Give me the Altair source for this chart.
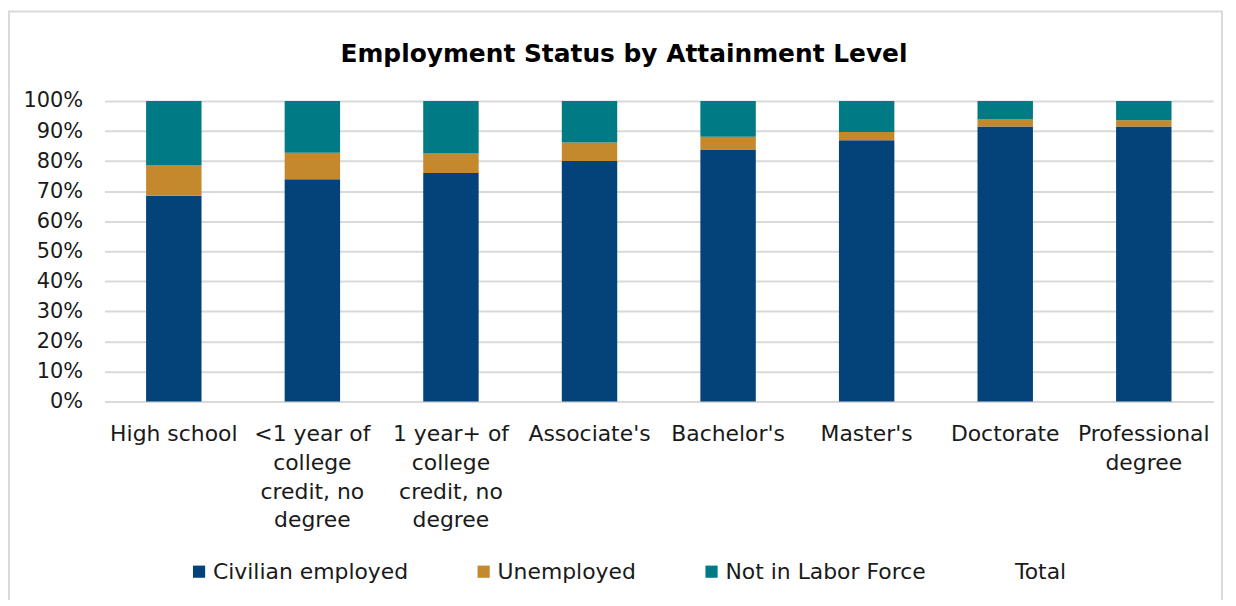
import altair as alt
import pandas as pd

title_text = "Employment Status by Attainment Level"
categories = [
    "High school",
    "<1 year of\ncollege\ncredit, no\ndegree",
    "1 year+ of\ncollege\ncredit, no\ndegree",
    "Associate's",
    "Bachelor's",
    "Master's",
    "Doctorate",
    "Professional\ndegree",
]
series = ["Civilian employed", "Unemployed", "Not in Labor Force", "Total"]
civilian_employed = [68.5, 74.0, 76.0, 80.0, 83.9, 86.9, 91.5, 91.5]
unemployed = [10.0, 8.8, 6.5, 6.2, 4.2, 2.8, 2.5, 2.1]
not_in_labor_force = [21.5, 17.2, 17.5, 13.8, 11.9, 10.3, 6.0, 6.4]
colors = ["#03437A", "#C4882D", "#007A84", "#FFFFFF"]

rows = []
for i, c in enumerate(categories):
    for j, (s, vals) in enumerate(zip(series[:3], [civilian_employed, unemployed, not_in_labor_force])):
        rows.append({"category": c, "series": s, "value": vals[i] / 100.0, "ord": j})
df = pd.DataFrame(rows)

FONT = "DejaVu Sans"

bars = alt.Chart(df).mark_bar().encode(
    x=alt.X("category:N", sort=categories, title=None,
            scale=alt.Scale(paddingInner=0.6, paddingOuter=0.3),
            axis=alt.Axis(labelAngle=0, labelFontSize=22, labelLineHeight=29,
                          labelPadding=22, labelLimit=300, labelColor="#1a1a1a",
                          labelFont=FONT, ticks=False, domainColor="#d9d9d9",
                          domainWidth=2, labelExpr="split(datum.label, '\\n')")),
    y=alt.Y("value:Q", stack="zero", title=None,
            scale=alt.Scale(domain=[0, 1], nice=False),
            axis=alt.Axis(format=".0%", values=[i / 10 for i in range(11)],
                          labelFontSize=21, labelFont=FONT, labelColor="#1a1a1a",
                          labelPadding=22, ticks=False, domain=False,
                          gridColor="#d9d9d9", gridWidth=2)),
    color=alt.Color("series:N",
                    scale=alt.Scale(domain=series, range=colors),
                    legend=alt.Legend(title=None, orient="none", direction="horizontal",
                                      legendX=84, legendY=462, symbolType="square",
                                      symbolSize=150, symbolStrokeWidth=0,
                                      labelFontSize=22, labelFont=FONT,
                                      labelColor="#1a1a1a", labelOffset=3,
                                      columnPadding=64, labelLimit=400)),
    order=alt.Order("ord:Q", sort="ascending"),
)

border = alt.Chart(alt.Data(values=[{}])).mark_rect(
    fill=None, stroke="#d9d9d9", strokeWidth=2
).encode(
    x=alt.value(-96), x2=alt.value(1123), y=alt.value(-90), y2=alt.value(520)
)

title = alt.Chart(alt.Data(values=[{"t": title_text}])).mark_text(
    font=FONT, fontSize=25, fontWeight="bold", color="#000000",
    align="center", baseline="alphabetic"
).encode(
    text="t:N", x=alt.value(522), y=alt.value(-39)
)

chart = alt.layer(border, bars, title).properties(
    width=1114, height=302,
    autosize=alt.AutoSizeParams(type="none"),
    padding={"left": 97, "top": 92, "right": 15, "bottom": 198},
).configure_view(stroke=None)

chart.save("out.html", embed_options={"renderer": "svg", "actions": False})
